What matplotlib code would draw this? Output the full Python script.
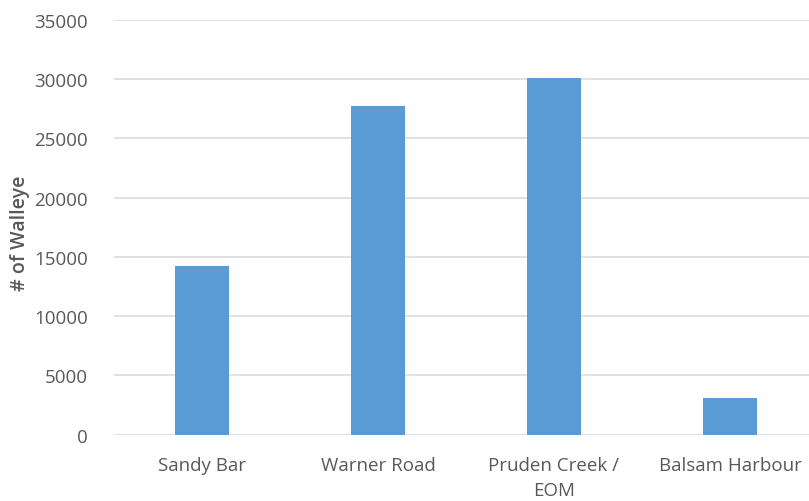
import matplotlib
matplotlib.use("Agg")
import matplotlib.pyplot as plt
import numpy as np

categories = ["Sandy Bar", "Warner Road", "Pruden Creek /\nEOM", "Balsam Harbour"]
values = [14230, 27700, 30050, 3120]
yticks = [0, 5000, 10000, 15000, 20000, 25000, 30000, 35000]

W, H = 809, 502
fig = plt.figure(figsize=(W / 100, H / 100), dpi=100)
left, right = 114 / W, 818 / W
top, bottom = 1 - 20.7 / H, 1 - 435.7 / H
ax = fig.add_axes([left, bottom, right - left, top - bottom])

x = np.arange(len(categories))
ax.bar(x, values, width=0.31, color="#5B9BD5", zorder=3)

ax.set_xlim(-0.5, 3.5)
ax.set_ylim(0, 35000)
ax.set_yticks(yticks)
ax.set_yticklabels([str(v) for v in yticks])
ax.set_xticks(x)
ax.set_xticklabels(categories)

ax.grid(axis="y", color="#D9D9D9", linewidth=1.1, zorder=0)
for s in ax.spines.values():
    s.set_visible(False)
ax.tick_params(axis="both", length=0, colors="#595959", labelsize=13.5)
ax.tick_params(axis="y", pad=19)
ax.tick_params(axis="x", pad=15)
for lbl in ax.get_xticklabels() + ax.get_yticklabels():
    lbl.set_fontfamily("Open Sans")
    lbl.set_linespacing(1.55)

fig.text(20 / W, 1 - 233 / H, "# of Walleye", rotation=90, ha="center", va="center",
         fontsize=14, color="#595959", family="Open Sans", fontweight="semibold")

fig.savefig("out.png", dpi=100)
